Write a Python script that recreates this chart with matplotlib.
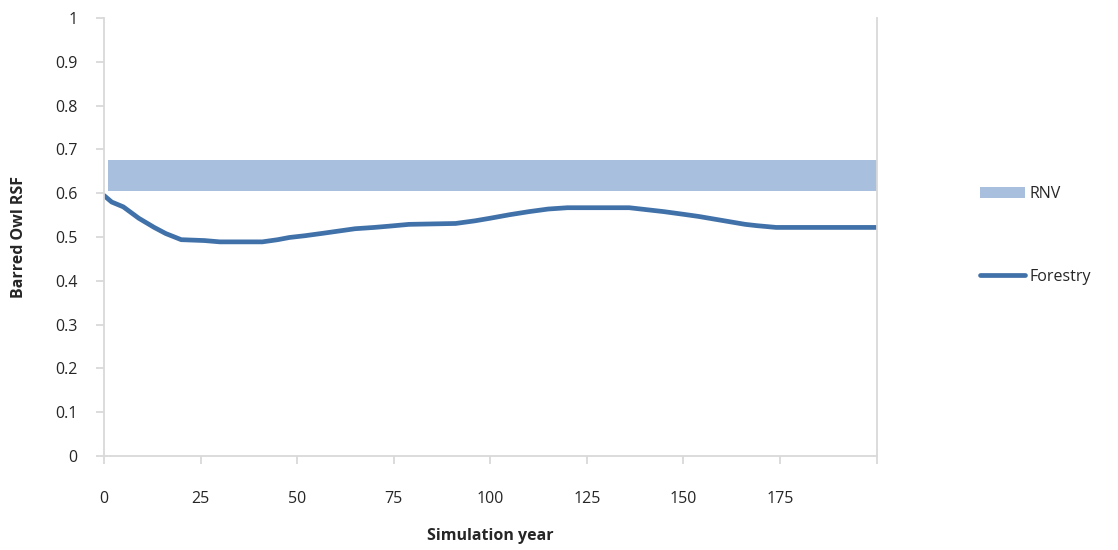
import matplotlib.pyplot as plt

# Forestry trajectory
years = [0, 2, 5, 9, 13, 16, 20, 26, 30, 41, 45, 48, 52, 57, 61, 65, 70, 74, 79, 91,
         96, 100, 105, 110, 115, 120, 136, 140, 145, 150, 154, 158, 162, 166, 169,
         174, 200]
forestry = [0.595, 0.58, 0.569, 0.543, 0.522, 0.508, 0.494, 0.492, 0.489, 0.489,
            0.494, 0.499, 0.503, 0.509, 0.514, 0.519, 0.522, 0.525, 0.529, 0.531,
            0.537, 0.543, 0.551, 0.558, 0.564, 0.567, 0.567, 0.563, 0.558, 0.552,
            0.547, 0.541, 0.535, 0.529, 0.526, 0.522, 0.522]

rnv_years = [1, 200]
rnv_low = [0.605, 0.605]
rnv_high = [0.676, 0.676]

plt.rcParams["font.family"] = ["Open Sans", "DejaVu Sans"]

fig = plt.figure(figsize=(11.18, 5.5), dpi=100)
ax = fig.add_axes([0.093, 0.171, 0.691, 0.796])

band = ax.fill_between(rnv_years, rnv_low, rnv_high, color="#a8c0de", linewidth=0,
                       label="RNV")
line, = ax.plot(years, forestry, color="#4171a9", linewidth=3.4,
                solid_capstyle="round", label="Forestry")

ax.set_xlim(0, 200)
ax.set_ylim(0, 1)
ax.set_xticks([0, 25, 50, 75, 100, 125, 150, 175, 200])
ax.set_xticklabels(["0", "25", "50", "75", "100", "125", "150", "175", ""])
ax.set_yticks([i / 10 for i in range(11)])
ax.set_yticklabels(["0", "0.1", "0.2", "0.3", "0.4", "0.5", "0.6", "0.7", "0.8",
                    "0.9", "1"])

for side in ["left", "bottom", "right"]:
    ax.spines[side].set_color("#d9d9d9")
    ax.spines[side].set_linewidth(1.3)
ax.spines["top"].set_visible(False)
ax.tick_params(axis="both", colors="#d9d9d9", width=1.3, length=6,
               labelcolor="#262626", labelsize=11.5)
ax.tick_params(axis="x", pad=19)
ax.tick_params(axis="y", pad=13)

ax.set_xlabel("Simulation year", fontsize=11.5, fontweight="bold", color="#262626",
              labelpad=15)
ax.set_ylabel("Barred Owl RSF", fontsize=11.5, fontweight="bold", color="#262626",
              labelpad=20)

fig.legend(handles=[band, line], labels=["RNV", "Forestry"], loc="upper left",
           bbox_to_anchor=(0.864, 0.688), frameon=False, fontsize=11.5,
           labelspacing=4.2, handlelength=2.8, handletextpad=0.25,
           labelcolor="#262626")

fig.savefig("out.png", dpi=100)
